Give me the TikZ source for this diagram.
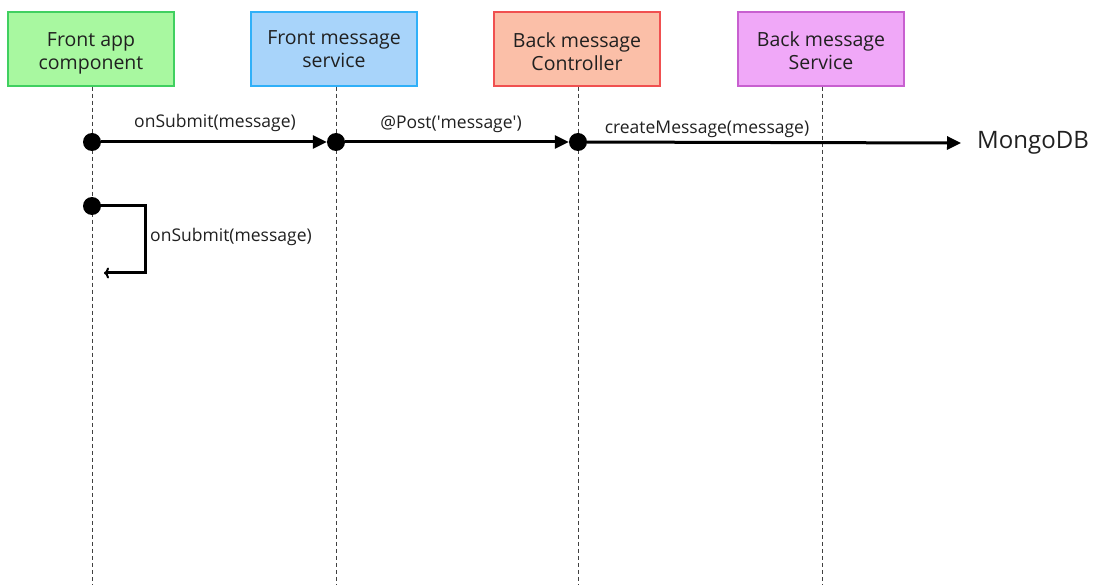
\documentclass[tikz,border=0pt]{standalone}
\usepackage{fontspec}
\setmainfont{Open Sans}
\usetikzlibrary{arrows.meta}
\definecolor{gfill}{HTML}{A8F8A0}\definecolor{gline}{HTML}{40D060}
\definecolor{bfill}{HTML}{A8D4FA}\definecolor{bline}{HTML}{30B0F8}
\definecolor{rfill}{HTML}{FBBFA8}\definecolor{rline}{HTML}{F05050}
\definecolor{pfill}{HTML}{F0A8F8}\definecolor{pline}{HTML}{C860D0}
\definecolor{txt}{HTML}{202020}
\tikzset{
  actor/.style={draw, line width=1.5pt, minimum width=166pt, minimum height=74pt, inner sep=0pt},
  actortext/.style={inner sep=0pt, align=center, font=\fontsize{19.5}{23}\selectfont, text=txt},
  life/.style={draw=black!75, line width=0.9pt, dash pattern=on 4pt off 3pt},
  dot/.style={circle, fill=black, minimum size=18pt, inner sep=0pt},
  msg/.style={line width=3pt, -{Triangle[length=14pt,width=13pt]}},
  selfmsg/.style={line width=3pt, -{To[length=5pt,width=11pt,line width=2pt]}},
  lbl/.style={font=\fontsize{17.5}{19}\selectfont, text=txt, inner sep=0pt},
}
\begin{document}
\begin{tikzpicture}[x=1pt,y=-1pt]
\useasboundingbox (0,0) rectangle (1098,585);
\node[actor, fill=gfill, draw=gline] (a1) at (91,49) {};
\node[actor, fill=bfill, draw=bline] (a2) at (334,49) {};
\node[actor, fill=rfill, draw=rline] (a3) at (577,49) {};
\node[actor, fill=pfill, draw=pline] (a4) at (821,49) {};
\node[actortext] (t1) at (91,53) {Front app\\component};
\node[actortext] (t2) at (334,49.5) {Front message\\service};
\node[actortext] (t3) at (577,51.5) {Back message\\Controller};
\node[actortext] (t4) at (821,51) {Back message\\Service};
\coordinate (e1) at (92,585);
\coordinate (e2) at (336,585);
\coordinate (e3) at (578,585);
\coordinate (e4) at (822,585);
\draw[life] (a1.south -| e1) -- (e1);
\draw[life] (a2.south -| e2) -- (e2);
\draw[life] (a3.south -| e3) -- (e3);
\draw[life] (a4.south -| e4) -- (e4);
\node[dot] (d1) at (92,142) {};
\node[dot] (d2) at (336,142) {};
\node[dot] (d3) at (578,142) {};
\node[dot] (s1) at (92,206) {};
\node[font=\fontsize{24}{26}\selectfont, text=txt, anchor=west, inner sep=0pt] (db) at (977,143) {MongoDB};
\draw[msg] (d1) -- (d2);
\draw[msg] (d2) -- (d3);
\draw[msg] (d3) -- ([xshift=-16pt]db.west);
\node[lbl] (l1) at (215,123) {onSubmit(message)};
\node[lbl] (l2) at (451,124) {@Post(\textquotesingle message\textquotesingle)};
\node[lbl] (l3) at (707,129) {createMessage(message)};
\coordinate (c1) at (145,206);
\coordinate (c2) at (104,273);
\draw[selfmsg] (s1.center) -- (c1) |- (c2);
\node[lbl, anchor=west] (l4) at (150,237) {onSubmit(message)};
\end{tikzpicture}
\end{document}
